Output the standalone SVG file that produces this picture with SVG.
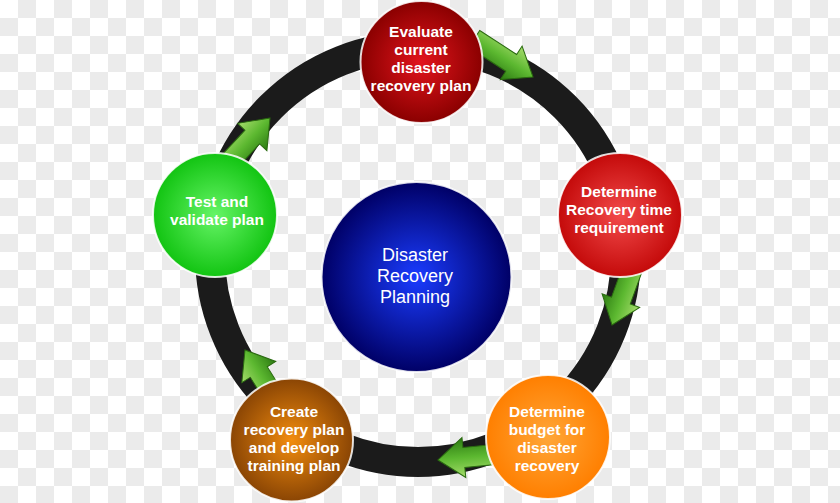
<svg xmlns="http://www.w3.org/2000/svg" width="840" height="503" viewBox="0 0 840 503">
<defs>
  <pattern id="checker" width="36" height="36" patternUnits="userSpaceOnUse">
    <rect width="36" height="36" fill="#ffffff"/>
    <rect x="18" y="0" width="18" height="18" fill="#ebebeb"/>
    <rect x="0" y="18" width="18" height="18" fill="#ebebeb"/>
  </pattern>
  <radialGradient id="gTop" cx="50%" cy="50%" r="50%">
    <stop offset="0" stop-color="#e2141c"/>
    <stop offset="1" stop-color="#8a0000"/>
  </radialGradient>
  <radialGradient id="gRight" cx="50%" cy="50%" r="50%">
    <stop offset="0" stop-color="#f24a4a"/>
    <stop offset="1" stop-color="#c40a0a"/>
  </radialGradient>
  <radialGradient id="gOrange" cx="50%" cy="50%" r="50%">
    <stop offset="0" stop-color="#ffa638"/>
    <stop offset="1" stop-color="#ff7f00"/>
  </radialGradient>
  <radialGradient id="gBrown" cx="50%" cy="50%" r="50%">
    <stop offset="0" stop-color="#f28c0e"/>
    <stop offset="1" stop-color="#8a4504"/>
  </radialGradient>
  <radialGradient id="gGreen" cx="50%" cy="50%" r="50%">
    <stop offset="0" stop-color="#66f466"/>
    <stop offset="1" stop-color="#12c412"/>
  </radialGradient>
  <radialGradient id="gBlue" cx="50%" cy="50%" r="50%">
    <stop offset="0" stop-color="#1a3cff"/>
    <stop offset="1" stop-color="#000066"/>
  </radialGradient>
  <linearGradient id="gArrow" x1="0" y1="0" x2="0" y2="1">
    <stop offset="0" stop-color="#a6dc6c"/>
    <stop offset="0.5" stop-color="#5cb830"/>
    <stop offset="1" stop-color="#2c7a12"/>
  </linearGradient>
  <path id="arrowShape" d="M0,0 L-26,-20 L-26,-10 L-70,-10 L-70,10 L-26,10 L-26,20 Z"/>
  <style>
    .node { stroke: #ffffff; stroke-width: 2; stroke-opacity: 0.85; }
    .lbl { font-family: "Liberation Sans", Arial, sans-serif; font-weight: bold; font-size: 15.5px; fill: #ffffff; text-anchor: middle; }
    .center { font-family: "Liberation Sans", Arial, sans-serif; font-size: 18px; fill: #ffffff; text-anchor: middle; }
    .arrow { fill: url(#gArrow); stroke: #2a6a10; stroke-width: 1; }
  </style>
</defs>

<rect width="840" height="503" fill="url(#checker)"/>

<g id="connectors">
  <circle id="ring" cx="418" cy="254" r="208" fill="none" stroke="#1b1b1b" stroke-width="30"/>
  <use href="#arrowShape" class="arrow" transform="translate(533,77) rotate(33)"/>
  <use href="#arrowShape" class="arrow" transform="translate(612,325) rotate(110)"/>
  <use href="#arrowShape" class="arrow" transform="translate(438,460) rotate(174.5)"/>
  <use href="#arrowShape" class="arrow" transform="translate(245,350) rotate(238)"/>
  <use href="#arrowShape" class="arrow" transform="translate(270,118) rotate(-47)"/>
</g>

<g id="node-center">
  <circle cx="416.5" cy="277" r="95" fill="url(#gBlue)" class="node"/>
  <text class="center" x="415" y="261">Disaster</text>
  <text class="center" x="415" y="282">Recovery</text>
  <text class="center" x="415" y="303">Planning</text>
</g>

<g id="node-evaluate">
  <circle cx="421.5" cy="62" r="61" fill="url(#gTop)" class="node"/>
  <text class="lbl" x="421" y="37">Evaluate</text>
  <text class="lbl" x="421" y="55">current</text>
  <text class="lbl" x="421" y="73">disaster</text>
  <text class="lbl" x="421" y="91">recovery plan</text>
</g>

<g id="node-time">
  <circle cx="620" cy="215" r="62" fill="url(#gRight)" class="node"/>
  <text class="lbl" x="619" y="197">Determine</text>
  <text class="lbl" x="619" y="215">Recovery time</text>
  <text class="lbl" x="619" y="233">requirement</text>
</g>

<g id="node-budget">
  <circle cx="548" cy="437" r="62" fill="url(#gOrange)" class="node"/>
  <text class="lbl" x="547" y="417">Determine</text>
  <text class="lbl" x="547" y="435">budget for</text>
  <text class="lbl" x="547" y="453">disaster</text>
  <text class="lbl" x="547" y="471">recovery</text>
</g>

<g id="node-create">
  <circle cx="291.5" cy="440" r="61.5" fill="url(#gBrown)" class="node"/>
  <text class="lbl" x="294" y="417">Create</text>
  <text class="lbl" x="294" y="435">recovery plan</text>
  <text class="lbl" x="294" y="453">and develop</text>
  <text class="lbl" x="294" y="471">training plan</text>
</g>

<g id="node-test">
  <circle cx="215" cy="215" r="62" fill="url(#gGreen)" class="node"/>
  <text class="lbl" x="217" y="207">Test and</text>
  <text class="lbl" x="217" y="225">validate plan</text>
</g>
</svg>
